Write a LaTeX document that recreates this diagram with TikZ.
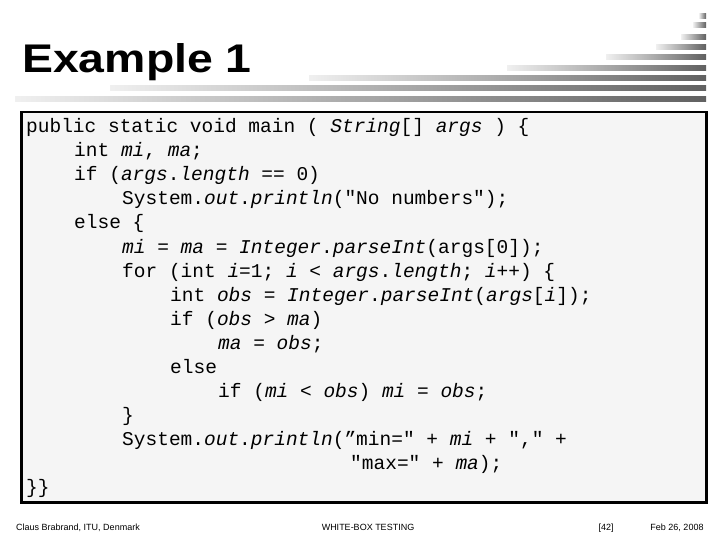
\documentclass[tikz,border=0pt]{standalone}
\usepackage{fontspec}
\setmainfont{Liberation Sans}
\newfontfamily\codefont{Liberation Mono}
\begin{document}
\begin{tikzpicture}[x=1pt,y=-1pt,
  bar/.style={left color=gray!12,right color=black!62,draw=none},
  code/.style={anchor=base west,inner sep=0pt,font=\codefont\fontsize{19.5}{24}\selectfont},
  foot/.style={anchor=base,inner sep=0pt,font=\fontsize{9}{10}\selectfont}]
\useasboundingbox (0,0) rectangle (720,540);
\foreach \y/\x in {16/699,25/693,37/681,47/656,57/606,68/507,78/309,88/110,99/15}
  \shade[bar] (\x,\y-2.5) rectangle (706,\y+2.5);
\node[anchor=base west,inner sep=0pt,font=\bfseries\fontsize{40}{44}\selectfont,xscale=1.16] (title) at (22,73) {Example 1};
\node[draw=black,line width=2.5pt,fill=gray!8,minimum width=685,minimum height=390,anchor=north west,inner sep=0pt] (box) at (20,111) {};
\node[code] (l0) at (26,133) {public static void main ( \textit{String}[] \textit{args} ) \{};
\node[code] (l1) at (74,157) {int \textit{mi}, \textit{ma};};
\node[code] (l2) at (74,181) {if (\textit{args}.\textit{length} == 0)};
\node[code] (l3) at (122,205) {System.\textit{out}.\textit{println}("No numbers");};
\node[code] (l4) at (74,229) {else \{};
\node[code] (l5) at (122,253) {\textit{mi} = \textit{ma} = \textit{Integer}.\textit{parseInt}(args[0]);};
\node[code] (l6) at (122,277) {for (int \textit{i}=1; \textit{i} < \textit{args}.\textit{length}; \textit{i}++) \{};
\node[code] (l7) at (170,301) {int \textit{obs} = \textit{Integer}.\textit{parseInt}(\textit{args}[\textit{i}]);};
\node[code] (l8) at (170,325) {if (\textit{obs} > \textit{ma})};
\node[code] (l9) at (218,349) {\textit{ma} = \textit{obs};};
\node[code] (l10) at (170,373) {else};
\node[code] (l11) at (218,397) {if (\textit{mi} < \textit{obs}) \textit{mi} = \textit{obs};};
\node[code] (l12) at (122,421) {\}};
\node[code] (l13) at (122,445) {System.\textit{out}.\textit{println}(”min=" + \textit{mi} + "," +};
\node[code] (l14) at (350,469) {"max=" + \textit{ma});};
\node[code] (l15) at (26,493) {\}\}};
\node[foot] (f1) at (78,530) {Claus Brabrand, ITU, Denmark};
\node[foot] (f2) at (368,530) {WHITE-BOX TESTING};
\node[foot] (f3) at (606,530) {[42]};
\node[foot] (f4) at (677,530) {Feb 26, 2008};
\end{tikzpicture}
\end{document}
